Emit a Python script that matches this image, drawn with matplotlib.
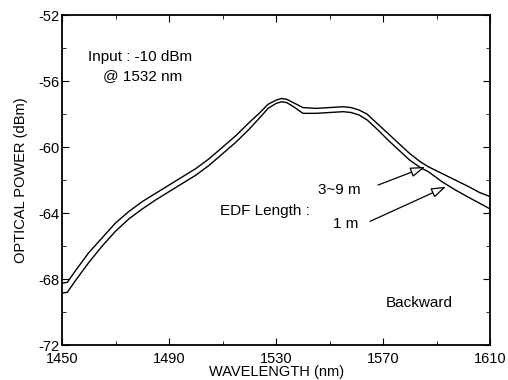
import numpy as np
import matplotlib.pyplot as plt

plt.rcParams['font.family'] = ['Liberation Sans', 'DejaVu Sans']
plt.rcParams['axes.unicode_minus'] = False

# wavelength (nm) and optical power (dBm)
wl = [1450, 1452, 1455, 1460, 1465, 1470, 1475, 1480, 1485, 1490, 1495, 1500,
      1505, 1510, 1515, 1520, 1524, 1527, 1530, 1532, 1534, 1537, 1540, 1545,
      1550, 1555, 1558, 1561, 1564, 1568, 1572, 1576, 1580, 1584, 1587, 1592,
      1597, 1602, 1606, 1610]
p_3to9m = [-68.25, -68.2, -67.5, -66.4, -65.5, -64.6, -63.9, -63.3, -62.8, -62.3,
           -61.8, -61.3, -60.7, -60.0, -59.3, -58.5, -57.9, -57.4, -57.15, -57.05,
           -57.1, -57.35, -57.6, -57.65, -57.6, -57.55, -57.6, -57.75, -58.0, -58.6,
           -59.2, -59.8, -60.4, -60.9, -61.2, -61.6, -62.0, -62.4, -62.75, -63.0]
p_1m = [-68.85, -68.8, -68.1, -67.0, -66.0, -65.1, -64.35, -63.75, -63.2, -62.7,
        -62.2, -61.7, -61.1, -60.4, -59.7, -58.9, -58.2, -57.65, -57.35, -57.25,
        -57.3, -57.6, -57.95, -57.95, -57.9, -57.85, -57.9, -58.05, -58.35, -58.95,
        -59.6, -60.2, -60.8, -61.25, -61.5, -62.1, -62.6, -63.05, -63.4, -63.75]

fig = plt.figure(figsize=(5.08, 3.8), dpi=100)
ax = fig.add_axes([0.122, 0.092, 0.843, 0.868])

ax.plot(wl, p_3to9m, color='black', lw=1.0)
ax.plot(wl, p_1m, color='black', lw=1.0)

ax.set_xlim(1450, 1610)
ax.set_ylim(-72, -52)
ax.set_xticks([1450, 1490, 1530, 1570, 1610])
ax.set_xticks(np.arange(1470, 1610, 40), minor=True)
ax.set_yticks(np.arange(-72, -51, 4))
ax.set_yticks(np.arange(-70, -52, 4), minor=True)
ax.tick_params(which='both', direction='in', top=True, right=True, labelsize=10.5)
ax.tick_params(axis='x', pad=5)
ax.tick_params(axis='y', pad=2)
ax.tick_params(which='major', length=5)
ax.tick_params(which='minor', length=3)
for s in ax.spines.values():
    s.set_linewidth(1.3)

ax.set_xlabel('WAVELENGTH (nm)', fontsize=10.5, labelpad=-1)
ax.set_ylabel('OPTICAL POWER (dBm)', fontsize=10.5, labelpad=7)

ax.text(1479.2, -54.55, 'Input : -10 dBm', ha='center', va='center', fontsize=11)
ax.text(1480.0, -55.7, '@ 1532 nm', ha='center', va='center', fontsize=11)
ax.text(1509.0, -63.9, 'EDF Length :', ha='left', va='center', fontsize=11)
ax.text(1545.7, -62.6, '3~9 m', ha='left', va='center', fontsize=11)
ax.text(1551.3, -64.65, '1 m', ha='left', va='center', fontsize=11)
ax.text(1571.1, -69.45, 'Backward', ha='left', va='center', fontsize=11)

arr = dict(arrowstyle='-|>,head_length=0.9,head_width=0.3', fc='white', ec='black',
           lw=0.9, shrinkA=0, shrinkB=0)
ax.annotate('', xy=(1585.7, -61.2), xytext=(1568.1, -62.3), arrowprops=arr)
ax.annotate('', xy=(1593.5, -62.4), xytext=(1565.1, -64.5), arrowprops=arr)

fig.savefig('out.png', dpi=100)
